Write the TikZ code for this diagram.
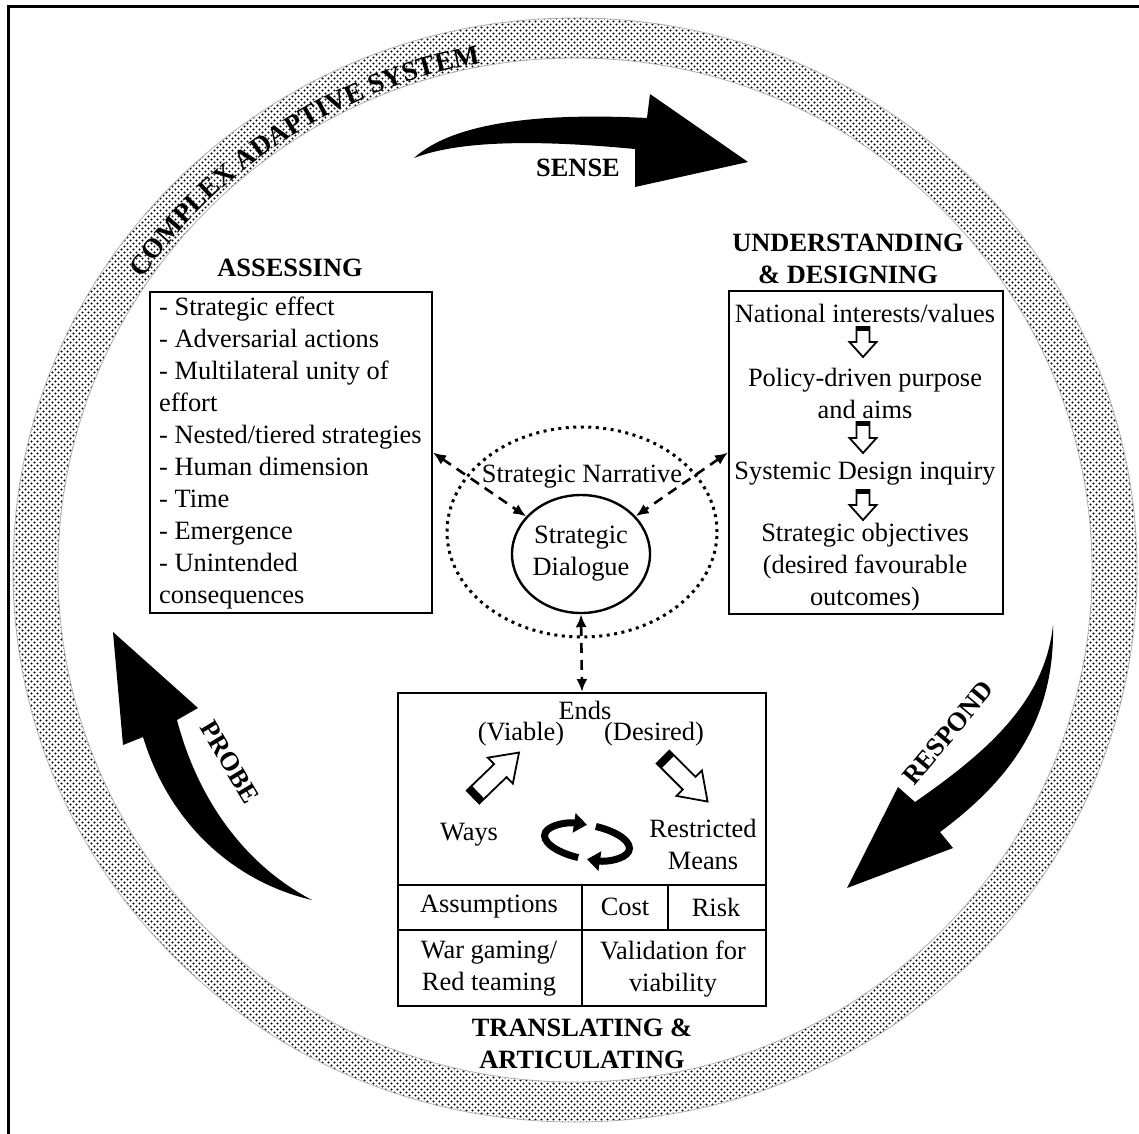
\documentclass[tikz,border=0pt]{standalone}
\usepackage{fontspec}
\setmainfont{Liberation Serif}
\usetikzlibrary{shapes.geometric, arrows.meta, decorations.text, patterns}

% stippled fill for the outer ring
\pgfdeclarepatternformonly{ringdots}{\pgfqpoint{-1pt}{-1pt}}{\pgfqpoint{7pt}{7pt}}{\pgfqpoint{6pt}{6pt}}{%
  \pgfpathcircle{\pgfqpoint{1.5pt}{1.5pt}}{1.1pt}%
  \pgfpathcircle{\pgfqpoint{4.5pt}{4.5pt}}{1.1pt}%
  \pgfusepath{fill}}

\newcommand{\ringfont}{\bfseries\fontsize{27.5}{27.5}\selectfont}

% hollow block arrow with a dark cap at its tail:
% #1 tail, #2 direction, #3 length, #4 shaft half-width, #5 head half-width, #6 head length, #7 cap depth
\newcommand{\blockarrow}[7]{%
  \begin{scope}[shift={#1}, rotate=#2]
    \draw[hollow] (0,-#4) -- ({#3-#6},-#4) -- ({#3-#6},-#5) -- (#3,0)
      -- ({#3-#6},#5) -- ({#3-#6},#4) -- (0,#4) -- cycle;
    \fill (0,-#4) rectangle (#7,#4);
  \end{scope}}

\tikzset{
  body/.style={font=\fontsize{26.4}{32}\selectfont, inner sep=0},
  title/.style={font=\bfseries\fontsize{26.4}{32}\selectfont, align=center, inner sep=0},
  biglabel/.style={font=\bfseries\fontsize{26.4}{32}\selectfont, inner sep=0},
  panel/.style={draw, line width=2, inner sep=0, anchor=north west},
  hollow/.style={draw, line width=1.8, fill=white, line join=miter},
  dashlink/.style={line width=2.6, dash pattern=on 10pt off 7pt,
    >={Latex[length=13pt,width=11pt]}, <->},
  cycler/.style={line width=7, -{Triangle[length=13pt,width=19pt]}},
}

\begin{document}
\begin{tikzpicture}[x=1pt, y=1pt]
  \path[fill=white, use as bounding box] (0,0) rectangle (1139,-1133);

  % outer frame
  \draw[line width=3] (8,-1145) -- (8,-6) -- (1150,-6);

  % complex adaptive system ring
  \path[pattern=ringdots, even odd rule]
    (575,-570) ellipse [x radius=562, y radius=552]
    (575,-570) ellipse [x radius=517, y radius=512];
  \draw[gray!60, line width=0.8] (575,-570) ellipse [x radius=562, y radius=552];
  \draw[gray!60, line width=0.8] (575,-570) ellipse [x radius=517, y radius=512];
  \path[decorate, decoration={text along path, text align=center,
      text={|\ringfont|COMPLEX ADAPTIVE SYSTEM}}]
    (575,-570) ++(153:525 and 515) arc [start angle=153, end angle=93, x radius=525, y radius=515];

  % sense / respond / probe cycle arrows
  \fill (414,-158) .. controls (450,-125) and (530,-112) .. (647,-118)
    -- (650,-94) -- (748,-162) -- (635,-187) -- (635,-149)
    .. controls (540,-140) and (460,-140) .. (414,-158) -- cycle;
  \fill (1053,-625) .. controls (1045,-700) and (990,-750) .. (915,-802)
    -- (898,-787) -- (847,-888) -- (953,-848) -- (940,-832)
    .. controls (1010,-780) and (1055,-720) .. (1053,-625) -- cycle;
  \fill (312,-900) .. controls (245,-865) and (198,-800) .. (177,-720)
    -- (198,-708) -- (113,-632) -- (123,-745) -- (143,-737)
    .. controls (170,-825) and (235,-882) .. (312,-900) -- cycle;
  \node[biglabel] (sense) at (578,-168) {SENSE};
  \node[biglabel, rotate=50] (respond) at (948,-733) {RESPOND};
  \node[biglabel, rotate=-59] (probe) at (230,-762) {PROBE};

  % assessing
  \node[title] (assesstitle) at (290,-268) {ASSESSING};
  \node[panel, minimum width=282, minimum height=321] (assess) at (149,-291) {};
  \node[body, align=left, anchor=north west] (assesslist) at (159,-297)
    {- Strategic effect\\- Adversarial actions\\- Multilateral unity of\\effort\\
     - Nested/tiered strategies\\- Human dimension\\- Time\\- Emergence\\
     - Unintended\\consequences};

  % understanding and designing
  \node[title] (designtitle) at (848,-259) {UNDERSTANDING\\\& DESIGNING};
  \node[panel, minimum width=274, minimum height=323] (design) at (728,-290) {};
  \node[body] (interests) at (865,-313) {National interests/values};
  \node[body, align=center] (policy) at (865,-393) {Policy-driven purpose\\and aims};
  \node[body] (inquiry) at (865,-474) {Systemic Design inquiry};
  \node[body, align=center] (objectives) at (865,-567)
    {Strategic objectives\\(desired favourable\\outcomes)};
  \blockarrow{(863,-327)}{-90}{30}{6.5}{13.5}{15}{4}
  \blockarrow{(863,-422)}{-90}{31}{6.5}{13.5}{15}{4}
  \blockarrow{(863,-490)}{-90}{30}{6.5}{13.5}{15}{4}

  % strategic narrative and dialogue
  \node[draw, ellipse, line width=3, dash pattern=on 3pt off 4.5pt,
        minimum width=270, minimum height=210, inner sep=0] (narrative) at (582,-532) {};
  \node[body] (narrtext) at (582,-477) {Strategic Narrative};
  \node[draw, ellipse, line width=2.4, minimum width=138, minimum height=118,
        body, align=center] (dialogue) at (581,-554) {Strategic\\Dialogue};

  % translating and articulating
  \node[panel, minimum width=368, minimum height=313] (tbox) at (397,-692) {};
  \draw[line width=2] (397,-885) -- (765,-885);
  \draw[line width=2] (397,-930) -- (765,-930);
  \draw[line width=2] (582,-885) -- (582,-1005);
  \draw[line width=2] (668,-885) -- (668,-930);
  \node[body] (ends) at (585,-710) {Ends};
  \node[body] (viable) at (521,-734) {(Viable)};
  \node[body] (desired) at (654,-734) {(Desired)};
  \node[body] (ways) at (469,-835) {Ways};
  \node[body, align=center] (means) at (703,-844) {Restricted\\Means};
  \blockarrow{(473,-797)}{44}{64}{9}{18}{26}{7}
  \blockarrow{(663,-757)}{-45}{63}{9}{18}{26}{7}
  \begin{scope}[shift={(587,-842)}, rotate=-10]
    \draw[cycler] (262:43 and 17) arc [start angle=262, end angle=94, x radius=43, y radius=17];
    \draw[cycler] (82:43 and 17) arc [start angle=82, end angle=-86, x radius=43, y radius=17];
  \end{scope}
  \node[body] (assumptions) at (489,-907) {Assumptions};
  \node[body] (cost) at (625,-907) {Cost};
  \node[body] (risk) at (716,-907) {Risk};
  \node[body, align=center] (wargaming) at (489,-969) {War gaming/\\Red teaming};
  \node[body, align=center] (validation) at (673,-969) {Validation for\\viability};
  \node[title] (transtitle) at (582,-1044) {TRANSLATING \&\\ARTICULATING};

  % dialogue links
  \draw[dashlink] (assess.east) -- (dialogue);
  \draw[dashlink] (design.west) -- (dialogue);
  \draw[dashlink] (dialogue.south) -- (tbox.north);
\end{tikzpicture}
\end{document}
